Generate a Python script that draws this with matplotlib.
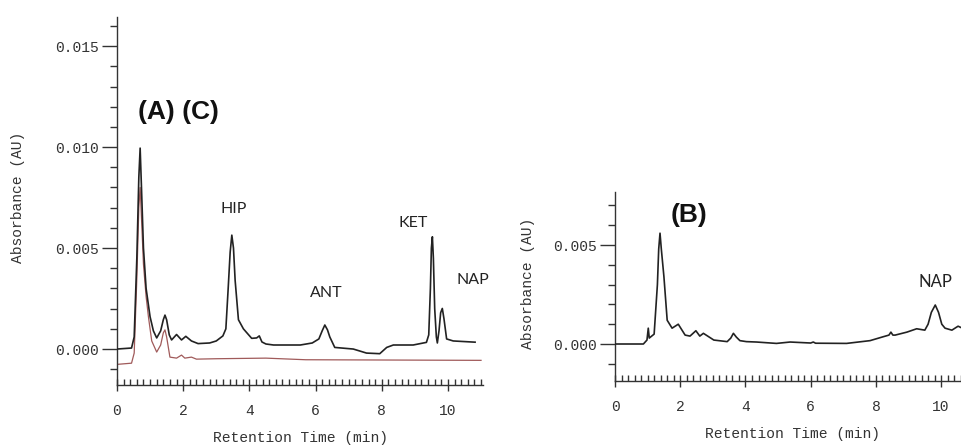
import matplotlib
matplotlib.use("Agg")
import matplotlib.pyplot as plt
from matplotlib.ticker import MultipleLocator, FormatStrFormatter

# ---- data (retention time in min, absorbance in AU x 1e-3) ----
time_A = [0, 0.44, 0.52, 0.60, 0.66, 0.70, 0.74, 0.80, 0.88, 1.00, 1.10, 1.20, 1.32, 1.40,
          1.45, 1.50, 1.58, 1.65, 1.80, 1.95, 2.08, 2.25, 2.45, 2.80, 3.00, 3.20, 3.29, 3.36,
          3.42, 3.47, 3.52, 3.57, 3.67, 3.82, 4.07, 4.22, 4.30, 4.38, 4.50, 4.73, 5.54, 5.90,
          6.10, 6.20, 6.28, 6.36, 6.43, 6.58, 7.14, 7.54, 7.94, 8.15, 8.35, 8.95, 9.35, 9.42,
          9.47, 9.50, 9.53, 9.56, 9.60, 9.65, 9.68, 9.73, 9.78, 9.83, 9.88, 9.96, 10.16, 10.82]
abs_A = [0.0, 0.05, 0.6, 4.5, 8.5, 9.95, 8.0, 5.0, 3.0, 1.6, 0.9, 0.55, 0.9, 1.45,
         1.68, 1.45, 0.7, 0.45, 0.72, 0.45, 0.63, 0.40, 0.27, 0.30, 0.40, 0.65, 1.0, 3.0,
         4.8, 5.64, 5.0, 3.4, 1.45, 1.0, 0.53, 0.55, 0.65, 0.35, 0.25, 0.20, 0.20, 0.30,
         0.50, 0.90, 1.19, 0.95, 0.6, 0.08, 0.0, -0.2, -0.23, 0.08, 0.20, 0.20, 0.33, 0.7,
         3.0, 5.0, 5.56, 4.5, 2.0, 0.6, 0.30, 0.9, 1.8, 2.01, 1.5, 0.5, 0.40, 0.34]

time_C = [0, 0.44, 0.52, 0.60, 0.66, 0.70, 0.74, 0.80, 0.88, 0.95, 1.05, 1.20, 1.32, 1.40,
          1.45, 1.50, 1.60, 1.80, 1.95, 2.05, 2.25, 2.40, 3.00, 4.50, 5.70, 11.0]
abs_C = [-0.76, -0.70, -0.2, 3.5, 7.0, 8.0, 6.5, 4.2, 2.6, 1.6, 0.4, -0.15, 0.2, 0.8,
         0.95, 0.6, -0.4, -0.45, -0.3, -0.45, -0.40, -0.50, -0.48, -0.45, -0.53, -0.56]

time_B = [0, 0.87, 0.98, 1.02, 1.05, 1.20, 1.30, 1.34, 1.38, 1.42, 1.50, 1.60, 1.75, 1.94,
          2.15, 2.30, 2.48, 2.60, 2.71, 3.03, 3.44, 3.55, 3.63, 3.72, 3.83, 4.03, 4.34, 4.95,
          5.37, 6.00, 6.08, 6.15, 7.10, 7.82, 8.23, 8.40, 8.46, 8.52, 8.59, 8.95, 9.25, 9.50,
          9.60, 9.70, 9.82, 9.92, 10.02, 10.12, 10.33, 10.52, 10.65]
abs_B = [0, 0, 0.2, 0.8, 0.3, 0.5, 3.0, 4.8, 5.6, 4.8, 3.4, 1.2, 0.8, 1.0,
         0.45, 0.4, 0.67, 0.4, 0.54, 0.2, 0.12, 0.3, 0.54, 0.35, 0.17, 0.12, 0.10, 0.03,
         0.10, 0.05, 0.10, 0.04, 0.03, 0.17, 0.37, 0.45, 0.6, 0.45, 0.45, 0.6, 0.77, 0.70,
         1.0, 1.6, 1.97, 1.6, 1.0, 0.8, 0.7, 0.9, 0.8]

labels_left = ["HIP", "ANT", "KET", "NAP"]
label_left_x = [3.53, 6.31, 8.94, 10.76]
label_left_y = [6.93, 2.77, 6.24, 3.42]
labels_right = ["NAP"]
label_right_x = [9.82]
label_right_y = [3.13]

scale = 1e-3
mono = "Liberation Mono"
axis_col = "#333333"

fig = plt.figure(figsize=(9.62, 4.46), dpi=100)


def style_axes(ax, xmax, ymin, ymax, yticks):
    for s in ("top", "right"):
        ax.spines[s].set_visible(False)
    for s in ("left", "bottom"):
        ax.spines[s].set_color(axis_col)
        ax.spines[s].set_linewidth(1.0)
    ax.set_xlim(0, xmax)
    ax.set_ylim(ymin, ymax)
    ax.xaxis.set_major_locator(MultipleLocator(2))
    ax.xaxis.set_minor_locator(MultipleLocator(0.2))
    ax.yaxis.set_major_locator(MultipleLocator(0.005))
    ax.yaxis.set_minor_locator(MultipleLocator(0.001))
    ax.set_yticks(yticks)
    ax.yaxis.set_major_formatter(FormatStrFormatter("%.3f"))
    ax.tick_params(axis="y", which="major", direction="out", length=11, width=1,
                   color=axis_col, pad=2, labelsize=10.5, labelcolor="#333333")
    ax.tick_params(axis="y", which="minor", direction="out", length=5, width=1, color=axis_col)
    ax.tick_params(axis="x", which="major", direction="inout", length=9, width=1,
                   color=axis_col, pad=9, labelsize=10.5, labelcolor="#333333")
    ax.tick_params(axis="x", which="minor", direction="in", length=4, width=1, color=axis_col)
    for lab in ax.get_xticklabels() + ax.get_yticklabels():
        lab.set_fontfamily(mono)
    ax.patch.set_alpha(0)


# ---- left panel (A) and (C) ----
axL = fig.add_axes([0.1216, 0.1368, 0.3805, 0.825])
axL.plot(time_C, [v * scale for v in abs_C], color="#a05a5a", lw=0.9, zorder=2)
axL.plot(time_A, [v * scale for v in abs_A], color="#222222", lw=1.2, zorder=3)
style_axes(axL, 11.06, -0.00178, 0.01644, [0, 0.005, 0.010, 0.015])
axL.text(0.63, 0.01173, "(A) (C)", fontsize=19, fontweight="bold",
         family="Liberation Sans", ha="left", va="center", color="#111111")
for lab, x, y in zip(labels_left, label_left_x, label_left_y):
    axL.text(x, y * scale, lab, fontsize=11.5, family="Lato", ha="center", va="center",
             color="#222222")

# ---- right panel (B) ----
axR = fig.add_axes([0.6393, 0.1457, 0.3607, 0.4238])
axR.plot(time_B, [v * scale for v in abs_B], color="#222222", lw=1.2, zorder=3)
style_axes(axR, 10.64, -0.00187, 0.00768, [0, 0.005])
axR.text(2.27, 0.00652, "(B)", fontsize=19, fontweight="bold",
         family="Liberation Sans", ha="center", va="center", color="#111111")
for lab, x, y in zip(labels_right, label_right_x, label_right_y):
    axR.text(x, y * scale, lab, fontsize=12, family="Lato", ha="center", va="center",
             color="#222222")

# ---- axis titles ----
fig.text(18 / 962, 1 - 197 / 446, "Absorbance (AU)", rotation=90, family=mono,
         fontsize=10.5, ha="center", va="center", color="#333333")
fig.text(301 / 962, 1 - 438 / 446, "Retention Time (min)", family=mono,
         fontsize=10.5, ha="center", va="center", color="#333333")
fig.text(528 / 962, 1 - 283 / 446, "Absorbance (AU)", rotation=90, family=mono,
         fontsize=10.5, ha="center", va="center", color="#333333")
fig.text(793 / 962, 1 - 434 / 446, "Retention Time (min)", family=mono,
         fontsize=10.5, ha="center", va="center", color="#333333")

fig.savefig("out.png", dpi=100)
